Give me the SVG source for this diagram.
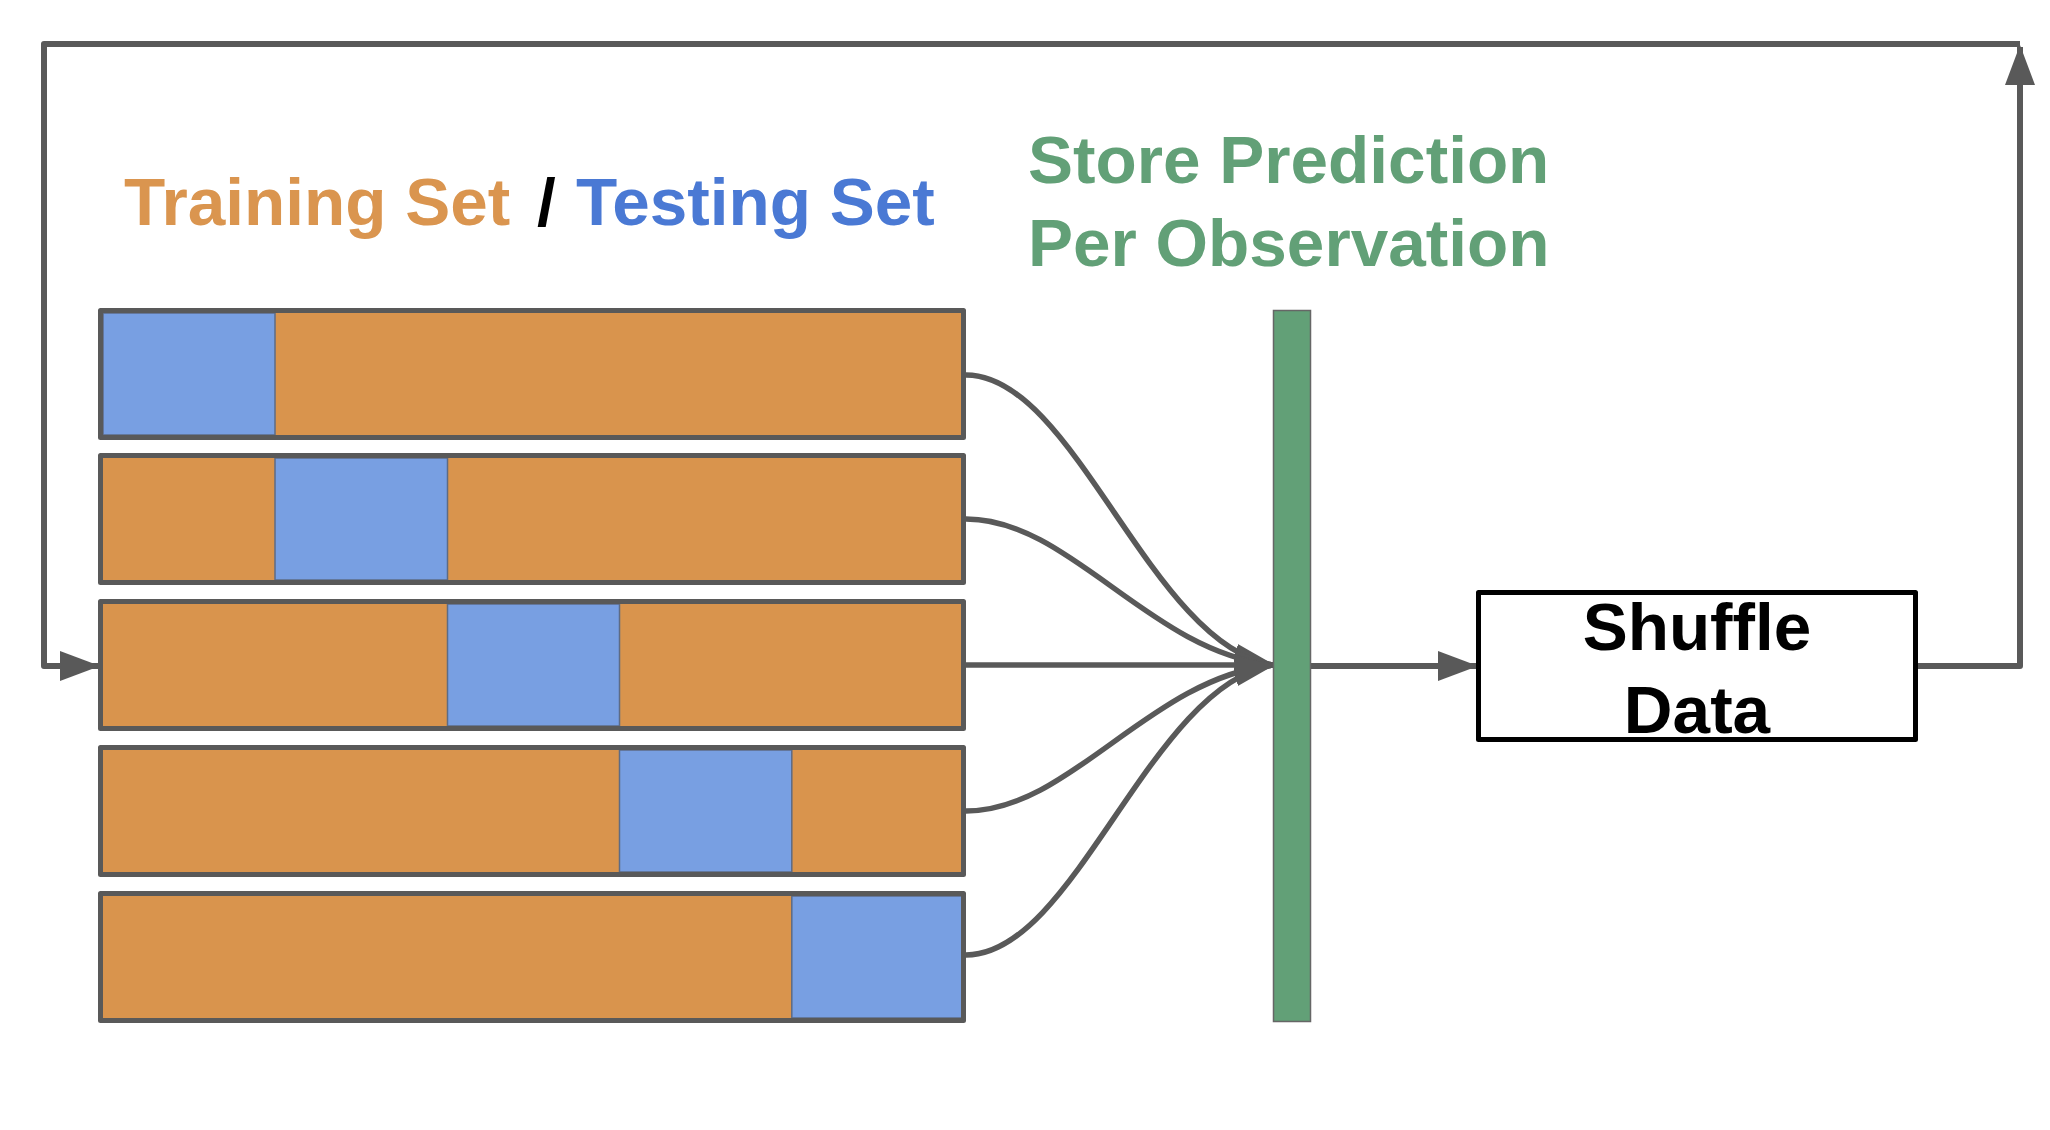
<svg xmlns="http://www.w3.org/2000/svg" width="2050" height="1130" viewBox="0 0 2050 1130">
<style>
.lbl{font-family:"Liberation Sans",Arial,sans-serif;font-weight:bold;font-size:67.5px}
.bar{fill:#D9944D}
.test{fill:#789FE2;stroke:#5d6b85;stroke-width:1.5}
.frame{fill:none;stroke:#595959;stroke-width:5;stroke-linejoin:round}
.conn{fill:none;stroke:#595959;stroke-width:5.5}
.loop{fill:none;stroke:#595959;stroke-width:6;stroke-linejoin:round}
</style>
<defs>
<marker id="arr" markerUnits="userSpaceOnUse" markerWidth="40" markerHeight="30" viewBox="0 0 40 30" refX="38" refY="15" orient="auto">
<path d="M0,0 L40,15 L0,30 Z" fill="#595959"/>
</marker>
</defs>
<rect width="2050" height="1130" fill="#ffffff"/>

<g id="title">
<text class="lbl" x="124" y="225"><tspan fill="#DA954F">Training Set</tspan><tspan x="537" fill="#000000">/</tspan><tspan x="576" fill="#4A79D4">Testing Set</tspan></text>
</g>
<g id="store-label">
<text class="lbl" fill="#62A077" x="1028" y="183">Store Prediction</text>
<text class="lbl" fill="#62A077" x="1028" y="266">Per Observation</text>
</g>

<g id="connectors">
<path class="loop" d="M1918,666 H2020 V47" marker-end="url(#arr)"/>
<path class="loop" d="M2020,44 H44 V666 H98" marker-end="url(#arr)"/>
<path class="conn" d="M966,375 C1075,375 1150,645 1273,665" marker-end="url(#arr)"/>
<path class="conn" d="M966,519 C1070,519 1150,652 1273,665" marker-end="url(#arr)"/>
<path class="conn" d="M966,665 H1273" marker-end="url(#arr)"/>
<path class="conn" d="M966,811 C1070,811 1150,678 1273,665" marker-end="url(#arr)"/>
<path class="conn" d="M966,955 C1075,955 1150,685 1273,665" marker-end="url(#arr)"/>
<path class="loop" d="M1311,666 H1476" marker-end="url(#arr)"/>
</g>

<g id="fold1">
<rect class="bar" x="100.5" y="310.5" width="863" height="127"/>
<rect class="test" x="103" y="313" width="172" height="122"/>
<rect class="frame" x="100.5" y="310.5" width="863" height="127"/>
</g>
<g id="fold2">
<rect class="bar" x="100.5" y="455.5" width="863" height="127"/>
<rect class="test" x="275" y="458" width="172.5" height="122"/>
<rect class="frame" x="100.5" y="455.5" width="863" height="127"/>
</g>
<g id="fold3">
<rect class="bar" x="100.5" y="601.5" width="863" height="127"/>
<rect class="test" x="447.5" y="604" width="172" height="122"/>
<rect class="frame" x="100.5" y="601.5" width="863" height="127"/>
</g>
<g id="fold4">
<rect class="bar" x="100.5" y="747.5" width="863" height="127"/>
<rect class="test" x="619.5" y="750" width="172.3" height="122"/>
<rect class="frame" x="100.5" y="747.5" width="863" height="127"/>
</g>
<g id="fold5">
<rect class="bar" x="100.5" y="893.5" width="863" height="127"/>
<rect class="test" x="791.8" y="896" width="172.2" height="122"/>
<rect class="frame" x="100.5" y="893.5" width="863" height="127"/>
</g>

<g id="store">
<rect x="1273.5" y="310.5" width="37" height="711" fill="#62A077" stroke="#666666" stroke-width="1.5"/>
</g>

<g id="shuffle">
<rect x="1478.5" y="592.5" width="437" height="147" fill="#ffffff" stroke="#000000" stroke-width="5" stroke-linejoin="round"/>
<text class="lbl" fill="#000000" text-anchor="middle" x="1697" y="650">Shuffle</text>
<text class="lbl" fill="#000000" text-anchor="middle" x="1697" y="733">Data</text>
</g>
</svg>
